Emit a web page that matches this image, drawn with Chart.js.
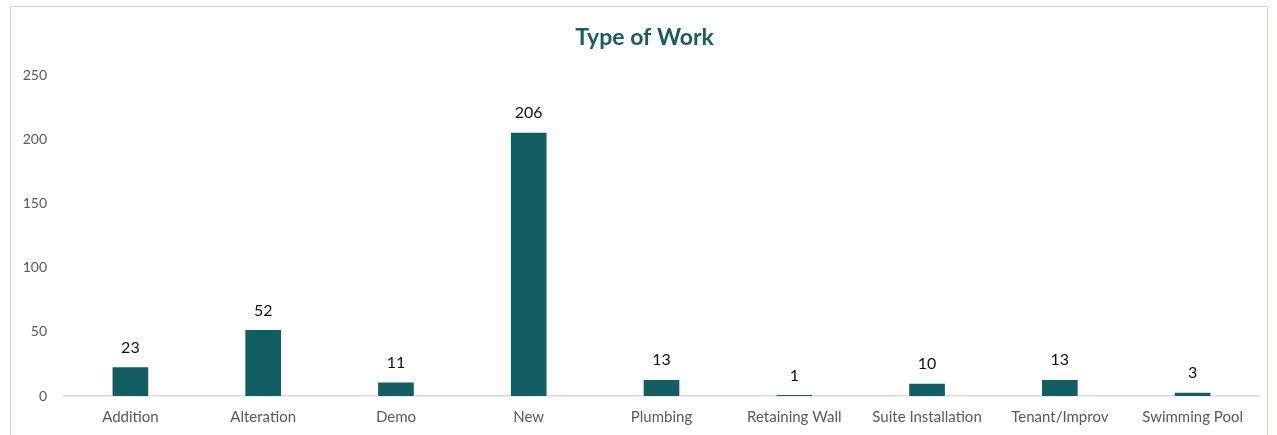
<!DOCTYPE html>
<html>
<head>
<meta charset="utf-8">
<script src="https://cdn.jsdelivr.net/npm/chart.js@4"></script>
<style>
  html, body { margin: 0; padding: 0; background: #fff; overflow: hidden; }
  .frame { position: absolute; left: 10px; top: 6px; width: 1258px; height: 460px; border: 1px solid #dbd5c9; box-sizing: border-box; }
  .wrap { position: absolute; left: 0; top: 0; width: 1277px; height: 435px; }
</style>
</head>
<body>
<div class="frame"></div>
<div class="wrap"><canvas id="workChart"></canvas></div>
<script>
// Data
const categories = ['Addition', 'Alteration', 'Demo', 'New', 'Plumbing', 'Retaining Wall', 'Suite Installation', 'Tenant/Improv', 'Swimming Pool'];
const counts = [23, 52, 11, 206, 13, 1, 10, 13, 3];
const yTicks = [0, 50, 100, 150, 200, 250];

const FONT = 'Lato, "Open Sans", sans-serif';

// draws the value above each bar
const valueLabels = {
  id: 'valueLabels',
  afterDatasetsDraw(chart) {
    const ctx = chart.ctx;
    const meta = chart.getDatasetMeta(0);
    ctx.save();
    ctx.font = '16px ' + FONT;
    ctx.fillStyle = '#111';
    ctx.textAlign = 'center';
    ctx.textBaseline = 'middle';
    meta.data.forEach((bar, i) => {
      ctx.fillText(counts[i], bar.x, bar.y - 19);
    });
    ctx.restore();
  }
};

// title is centred on the frame, not on the padded layout box
const shiftTitle = {
  id: 'shiftTitle',
  afterLayout(chart) {
    if (chart.titleBlock) chart.titleBlock.left += 30;
  }
};

new Chart(document.getElementById('workChart'), {
  type: 'bar',
  data: {
    labels: categories,
    datasets: [{
      data: counts,
      backgroundColor: '#135e63',
      borderColor: 'rgba(255,255,255,0.7)',
      borderWidth: 1,
      barThickness: 37
    }]
  },
  options: {
    responsive: true,
    maintainAspectRatio: false,
    animation: false,
    layout: { padding: { left: 0, right: 18, top: 0, bottom: 0 } },
    plugins: {
      legend: { display: false },
      tooltip: { enabled: false },
      title: {
        display: true,
        text: 'Type of Work',
        color: '#1a5c62',
        font: { family: FONT, size: 23, weight: 'bold' },
        padding: { top: 24, bottom: 24 }
      }
    },
    scales: {
      x: {
        grid: { display: false, drawTicks: false },
        border: { display: true, color: '#d9d9d9', width: 1.5 },
        ticks: { color: '#595959', font: { family: FONT, size: 15 }, padding: 12, maxRotation: 0, autoSkip: false },
        afterFit: s => { s.height = 39; }
      },
      y: {
        min: 0,
        max: 250,
        afterBuildTicks: s => { s.ticks = yTicks.map(v => ({ value: v })); },
        grid: { display: false, drawTicks: false },
        border: { display: false },
        ticks: { color: '#595959', font: { family: FONT, size: 14 }, padding: 17 },
        afterFit: s => { s.width = 64; }
      }
    }
  },
  plugins: [valueLabels, shiftTitle]
});
</script>
</body>
</html>
